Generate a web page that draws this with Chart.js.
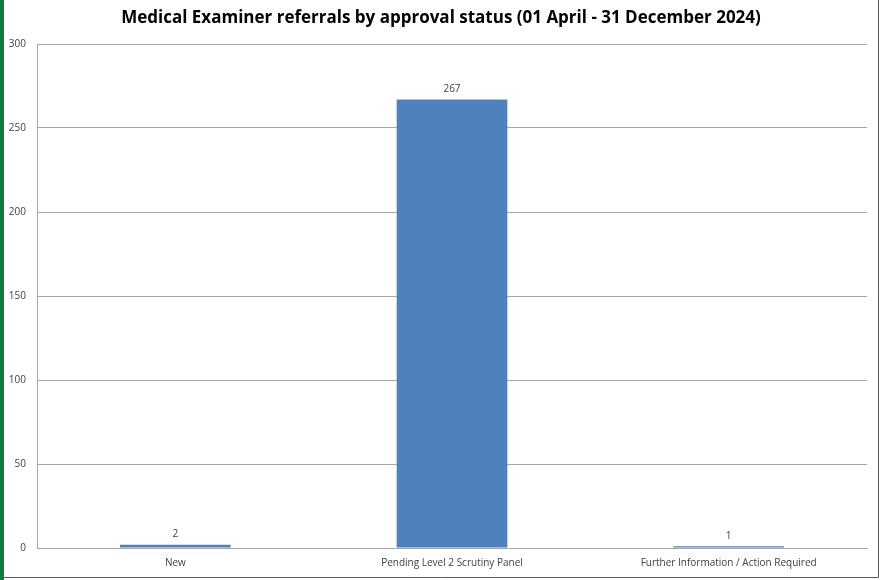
<!DOCTYPE html>
<html>
<head>
<meta charset="utf-8">
<script src="https://cdn.jsdelivr.net/npm/chart.js@4"></script>
<style>
  html, body { margin: 0; padding: 0; background: #fff; }
  #wrap { position: relative; width: 881px; height: 580px; }
</style>
</head>
<body>
<div id="wrap"><canvas id="c" width="881" height="580"></canvas></div>
<script>
const chartTitle = 'Medical Examiner referrals by approval status (01 April - 31 December 2024)';
const categories = ['New', 'Pending Level 2 Scrutiny Panel', 'Further Information / Action Required'];
const referrals = [2, 267, 1];
const yTicks = [0, 50, 100, 150, 200, 250, 300];

const FONT = '"Open Sans", "Liberation Sans", sans-serif';

// Title, value labels and the sheet frame
const decorations = {
  id: 'decorations',
  afterDraw(chart) {
    const ctx = chart.ctx;
    ctx.save();
    // frame of the embedded chart
    ctx.fillStyle = '#107c41';
    ctx.fillRect(0, 0, 4, 580);
    ctx.strokeStyle = '#595959';
    ctx.lineWidth = 1;
    ctx.beginPath();
    ctx.moveTo(878.5, 0); ctx.lineTo(878.5, 577.5); ctx.lineTo(4, 577.5);
    ctx.stroke();
    // title
    ctx.fillStyle = '#000';
    ctx.font = 'bold 17px ' + FONT;
    ctx.textAlign = 'center';
    ctx.textBaseline = 'middle';
    ctx.fillText(chartTitle, 441, 18);
    // value labels
    ctx.font = '10px ' + FONT;
    ctx.fillStyle = '#404040';
    ctx.textBaseline = 'bottom';
    const meta = chart.getDatasetMeta(0);
    meta.data.forEach((bar, i) => {
      ctx.fillText(String(referrals[i]), bar.x, bar.y - 5);
    });
    ctx.restore();
  }
};

new Chart(document.getElementById('c'), {
  type: 'bar',
  data: {
    labels: categories,
    datasets: [{
      data: referrals,
      backgroundColor: '#4F81BD',
      borderWidth: 0,
      barPercentage: 0.4,
      categoryPercentage: 1.0
    }]
  },
  options: {
    responsive: false,
    animation: false,
    layout: { padding: { top: 44, right: 14, left: 0, bottom: 0 } },
    plugins: { legend: { display: false }, title: { display: false }, tooltip: { enabled: false } },
    scales: {
      x: {
        grid: { display: false, drawTicks: false },
        border: { display: true, color: '#a6a6a6', width: 1 },
        ticks: { color: '#404040', font: { family: FONT, size: 10 }, padding: 9, maxRotation: 0 },
        afterFit(scale) { scale.height = 32; }
      },
      y: {
        min: 0, max: 300,
        afterBuildTicks(scale) { scale.ticks = yTicks.map(v => ({ value: v })); },
        grid: { color: '#a6a6a6', drawTicks: false, lineWidth: 1 },
        border: { display: true, color: '#a6a6a6', width: 1 },
        ticks: { color: '#404040', font: { family: FONT, size: 10 }, padding: 11 },
        afterFit(scale) { scale.width = 37; }
      }
    }
  },
  plugins: [decorations]
});
</script>
</body>
</html>
